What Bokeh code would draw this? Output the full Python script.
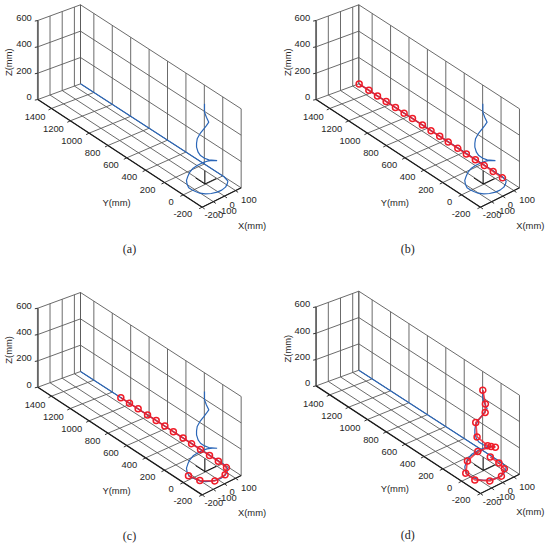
from math import pi
from bokeh.plotting import figure
from bokeh.models import Range1d
from bokeh.core.properties import value
from bokeh.embed import file_html
from bokeh.resources import INLINE

# ---------- data (mm) ----------
x_ticks = [-200, -100, 0, 100]
y_ticks = [-200, 0, 200, 400, 600, 800, 1000, 1200, 1400]
z_ticks = [0, 200, 400, 600]
x_lim = (-200, 150)
y_lim = (-200, 1545)
z_max = 600
captions = ["(a)", "(b)", "(c)", "(d)"]

path_x = [150, 150, 135, 108, 76, 33, -6, -47, -79, -103, -112, -117, -117, -97, -71, -56, -35, -18, 5, 29, 52, 77, 100,
          -7, -45, -81, -102, -116, -116, -110, -70, -18, 5, 26, 5, -12, -12]
path_y = [1545, -14, -74, -99, -120, -131, -129, -114, -91, -59, -24, 9, 42, 84, 122, 125, 130, 115, 100, 75, 50, 25, 0,
          -40, -40, -40, -40, -40, -40, -40, -20, 0, 0, 0, 0, 0, 0]
path_z = [0, 0, 0, 0, 0, 0, 0, 0, 0, 0, 0, 0, 0, 0, 0, 25, 45, 75, 92, 114, 129, 136, 137,
          205, 233, 268, 302, 346, 376, 407, 418, 426, 442, 459, 505, 551, 614]

b_x = [150, 150, 150, 150, 150, 150, 150, 150, 149, 149, 148, 147, 146, 146, 146, 145, 142]
b_y = [1541, 1436, 1342, 1248, 1147, 1053, 962, 854, 759, 665, 571, 466, 372, 274, 177, 79, -25]
b_z = [0] * 17

c_x = [150, 150, 150, 150, 150, 150, 149, 149, 148, 147, 147, 146, 138, 74, -26, -100, -121]
c_y = [1107, 1013, 919, 817, 723, 629, 535, 430, 336, 238, 140, 43, -55, -118, -128, -56, 40]
c_z = [0] * 17

d_x = [137, 134, 116, 43, -53, -122, -116, -45, 26, 83, 100, -1, -96, -108, 9, 11, -12]
d_y = [101, 4, -78, -134, -125, -47, 57, 125, 100, 25, 0, -40, -40, -40, 0, 0, 0]
d_z = [0, 0, 0, 0, 0, 0, 0, 33, 87, 136, 135, 207, 312, 426, 436, 500, 614]

stem_x, stem_y, stem_z = [-5, -5], [5, 5], [0, 100]
arm_x, arm_y = [-5, 95], [5, 5]
arm2_x, arm2_y = [-5, -5], [5, 105]

waypoints = [None, (b_x, b_y, b_z), (c_x, c_y, c_z), (d_x, d_y, d_z)]

# ---------- view ----------
OFFSETS = [(0, 0), (278.3, 0), (0, 287.7), (278.3, 286.4)]
GRID = "#5a5a5a"
BLUE = "#2a66b8"
RED = "#f01c28"
TXT = "#262626"
SANS = value("Liberation Sans")

# frame corners of the floor, in page pixels
O, A, B, C = (37.33, 99.0), (80.0, 83.33), (201.67, 206.67), (240.67, 187.33)
ZK = 0.1317


def frame(x, y, z, off):
    u = (x - x_lim[0]) / (x_lim[1] - x_lim[0])
    v = (y_lim[1] - y) / (y_lim[1] - y_lim[0])
    px = O[0]*(1-u)*(1-v) + A[0]*u*(1-v) + B[0]*(1-u)*v + C[0]*u*v
    py = O[1]*(1-u)*(1-v) + A[1]*u*(1-v) + B[1]*(1-u)*v + C[1]*u*v
    return px + off[0], py - z*ZK + off[1]


def project(xs, ys, zs, off):
    pts = [frame(x, y, z, off) for x, y, z in zip(xs, ys, zs)]
    return [q[0] for q in pts], [q[1] for q in pts]


p = figure(width=550, height=545, x_range=Range1d(0, 550), y_range=Range1d(545, 0),
           output_backend="svg", toolbar_location=None, x_axis_type=None, y_axis_type=None,
           min_border=0, outline_line_color=None, background_fill_color="white")
p.grid.visible = False


def seg(a, b, color=GRID, width=0.9):
    p.line([a[0], b[0]], [a[1], b[1]], line_color=color, line_width=width)


def label(txt, x, y, align="center", angle=0.0, size="9.4px", font=SANS):
    p.text([x], [y], text=[txt], text_font=font, text_font_size=size, text_color=TXT,
           text_align=align, text_baseline="middle", angle=angle)


XL, XH = x_lim
YL, YH = y_lim
ZH = z_max
X_LABEL_SHIFT = {-200: (11.7, 8.3), -100: (13.9, 8.9), 0: (7.7, 8.4), 100: (13.2, 9.9)}

for i, off in enumerate(OFFSETS):
    # floor grid
    for x in x_ticks + [XH]:
        seg(frame(x, YL, 0, off), frame(x, YH, 0, off))
    for y in y_ticks + [YH]:
        seg(frame(XL, y, 0, off), frame(XH, y, 0, off))
    # wall at the far end
    for x in x_ticks + [XH]:
        seg(frame(x, YH, 0, off), frame(x, YH, ZH, off))
    for z in z_ticks[1:]:
        seg(frame(XL, YH, z, off), frame(XH, YH, z, off))
    # long wall
    for y in y_ticks + [YH]:
        seg(frame(XH, y, 0, off), frame(XH, y, ZH, off))
    for z in z_ticks[1:]:
        seg(frame(XH, YL, z, off), frame(XH, YH, z, off))

    # axes
    seg(frame(XL, YH, 0, off), frame(XL, YH, ZH, off), "#666666", 1.8)
    seg(frame(XL, YH, 0, off), frame(XL, YL, 0, off), "#1a1a1a", 1.3)
    seg(frame(XL, YL, 0, off), frame(XH, YL, 0, off), "#1a1a1a", 1.1)
    for z in z_ticks:
        a = frame(XL, YH, z, off)
        seg((a[0]-3, a[1]+0.6), a, "#333333", 1.0)
        label(str(z), a[0]-6, a[1]-2.6, "right")
    for y in y_ticks:
        a = frame(XL, y, 0, off)
        seg((a[0]-3, a[1]+1.5), a, "#333333", 1.0)
        t = (1400 - y) / 1600
        label(str(y), a[0]-(6+4*t), a[1]+8.7-2.2*t, "right")
    for x in x_ticks:
        a = frame(x, YL, 0, off)
        seg(a, (a[0]+2.5, a[1]+1.8), "#333333", 1.0)
        sx, sy = X_LABEL_SHIFT[x]
        label(str(x), a[0]+sx, a[1]+sy)
    label("Y(mm)", off[0]+116, off[1]+202)
    label("X(mm)", off[0]+251.5, off[1]+224.5)
    label("Z(mm)", off[0]+8.3, off[1]+61.7, angle=pi/2)
    label(captions[i], off[0]+129, off[1]+248, size="12px", font=value("Liberation Serif"))

    # origin triad
    sx_, sy_ = project(stem_x, stem_y, stem_z, off)
    p.line(sx_, sy_, line_color="#111111", line_width=1.1)
    ax_, ay_ = project(arm_x, arm_y, [0, 0], off)
    p.line(ax_, ay_, line_color="#111111", line_width=1.0)
    ax_, ay_ = project(arm2_x, arm2_y, [0, 0], off)
    p.line(ax_, ay_, line_color="#111111", line_width=1.0)

    # paths
    px, py = project(path_x, path_y, path_z, off)
    p.line(px, py, line_color=BLUE, line_width=1.2)
    if waypoints[i] is not None:
        wx, wy = project(*waypoints[i], off)
        p.line(wx, wy, line_color=RED, line_width=1.7, line_alpha=0.8)
        p.scatter(wx, wy, marker="circle", size=6, fill_alpha=0, line_color=RED, line_width=1.5)

open("out.html", "w").write(file_html(p, INLINE))
